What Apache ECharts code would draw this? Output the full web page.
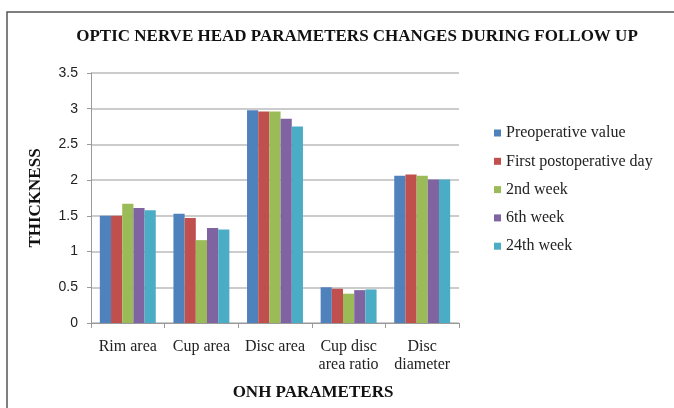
<!DOCTYPE html>
<html>
<head>
<meta charset="utf-8">
<script src="https://cdn.jsdelivr.net/npm/echarts@6/dist/echarts.min.js"></script>
<style>
  html, body { margin: 0; padding: 0; background: #fff; }
  #chart { width: 674px; height: 408px; }
</style>
</head>
<body>
<div id="chart"></div>
<script>
// categories and series values
const categories = ['Rim area', 'Cup area', 'Disc area', 'Cup disc\narea ratio', 'Disc\ndiameter'];
const seriesNames = ['Preoperative value', 'First postoperative day', '2nd week', '6th week', '24th week'];
const preoperative = [1.50, 1.53, 2.98, 0.50, 2.06];
const firstDay = [1.50, 1.47, 2.96, 0.48, 2.08];
const week2 = [1.67, 1.16, 2.96, 0.41, 2.06];
const week6 = [1.61, 1.33, 2.86, 0.46, 2.01];
const week24 = [1.58, 1.31, 2.75, 0.47, 2.01];
const colors = ['#4F81BD', '#C0504D', '#9BBB59', '#8064A2', '#4BACC6'];

const chart = echarts.init(document.getElementById('chart'), null, { renderer: 'canvas' });
const serif = '"Liberation Serif", "DejaVu Serif", serif';

const values = [preoperative, firstDay, week2, week6, week24];

chart.setOption({
    animation: false,
    color: colors,
    title: {
        text: 'OPTIC NERVE HEAD PARAMETERS CHANGES DURING FOLLOW UP',
        left: 352,
        textAlign: 'center',
        top: 23,
        textStyle: { fontFamily: serif, fontWeight: 'bold', fontSize: 17, color: '#111' }
    },
    legend: {
        orient: 'vertical',
        left: 489,
        top: 120,
        itemWidth: 7,
        itemHeight: 7,
        itemGap: 12.3,
        icon: 'rect',
        textStyle: { fontFamily: serif, fontSize: 16, color: '#222' },
        data: seriesNames
    },
    grid: { left: 91, right: 215, top: 73, bottom: 85 },
    xAxis: {
        type: 'category',
        data: categories,
        name: 'ONH PARAMETERS',
        nameLocation: 'middle',
        nameGap: 61,
        nameTextStyle: { fontFamily: serif, fontWeight: 'bold', fontSize: 17, color: '#111', padding: [0, 0, 0, 76] },
        axisLine: { lineStyle: { color: '#999', width: 1 } },
        axisTick: { show: true, length: 5, lineStyle: { color: '#999' } },
        axisLabel: { fontFamily: serif, fontSize: 16, color: '#222', margin: 15, lineHeight: 18, interval: 0 }
    },
    yAxis: {
        type: 'value',
        min: 0,
        max: 3.5,
        interval: 0.5,
        name: 'THICKNESS',
        nameLocation: 'middle',
        nameGap: 47,
        nameTextStyle: { fontFamily: serif, fontWeight: 'bold', fontSize: 17, color: '#111' },
        axisLine: { show: true, lineStyle: { color: '#999', width: 1 } },
        axisTick: { show: true, length: 4, lineStyle: { color: '#999' } },
        axisLabel: { fontFamily: '"Liberation Sans", Arial, sans-serif', fontSize: 14, color: '#222', margin: 13 },
        splitLine: { lineStyle: { color: '#bbb', width: 1.5 } }
    },
    series: seriesNames.map((name, i) => ({
        name: name,
        type: 'bar',
        data: values[i],
        barGap: '0%',
        barCategoryGap: '24%'
    })),
    graphic: [{
        type: 'rect',
        shape: { x: 7, y: 12, width: 680, height: 420 },
        style: { fill: null, stroke: '#555', lineWidth: 1.5 },
        silent: true
    }]
});
</script>
</body>
</html>
